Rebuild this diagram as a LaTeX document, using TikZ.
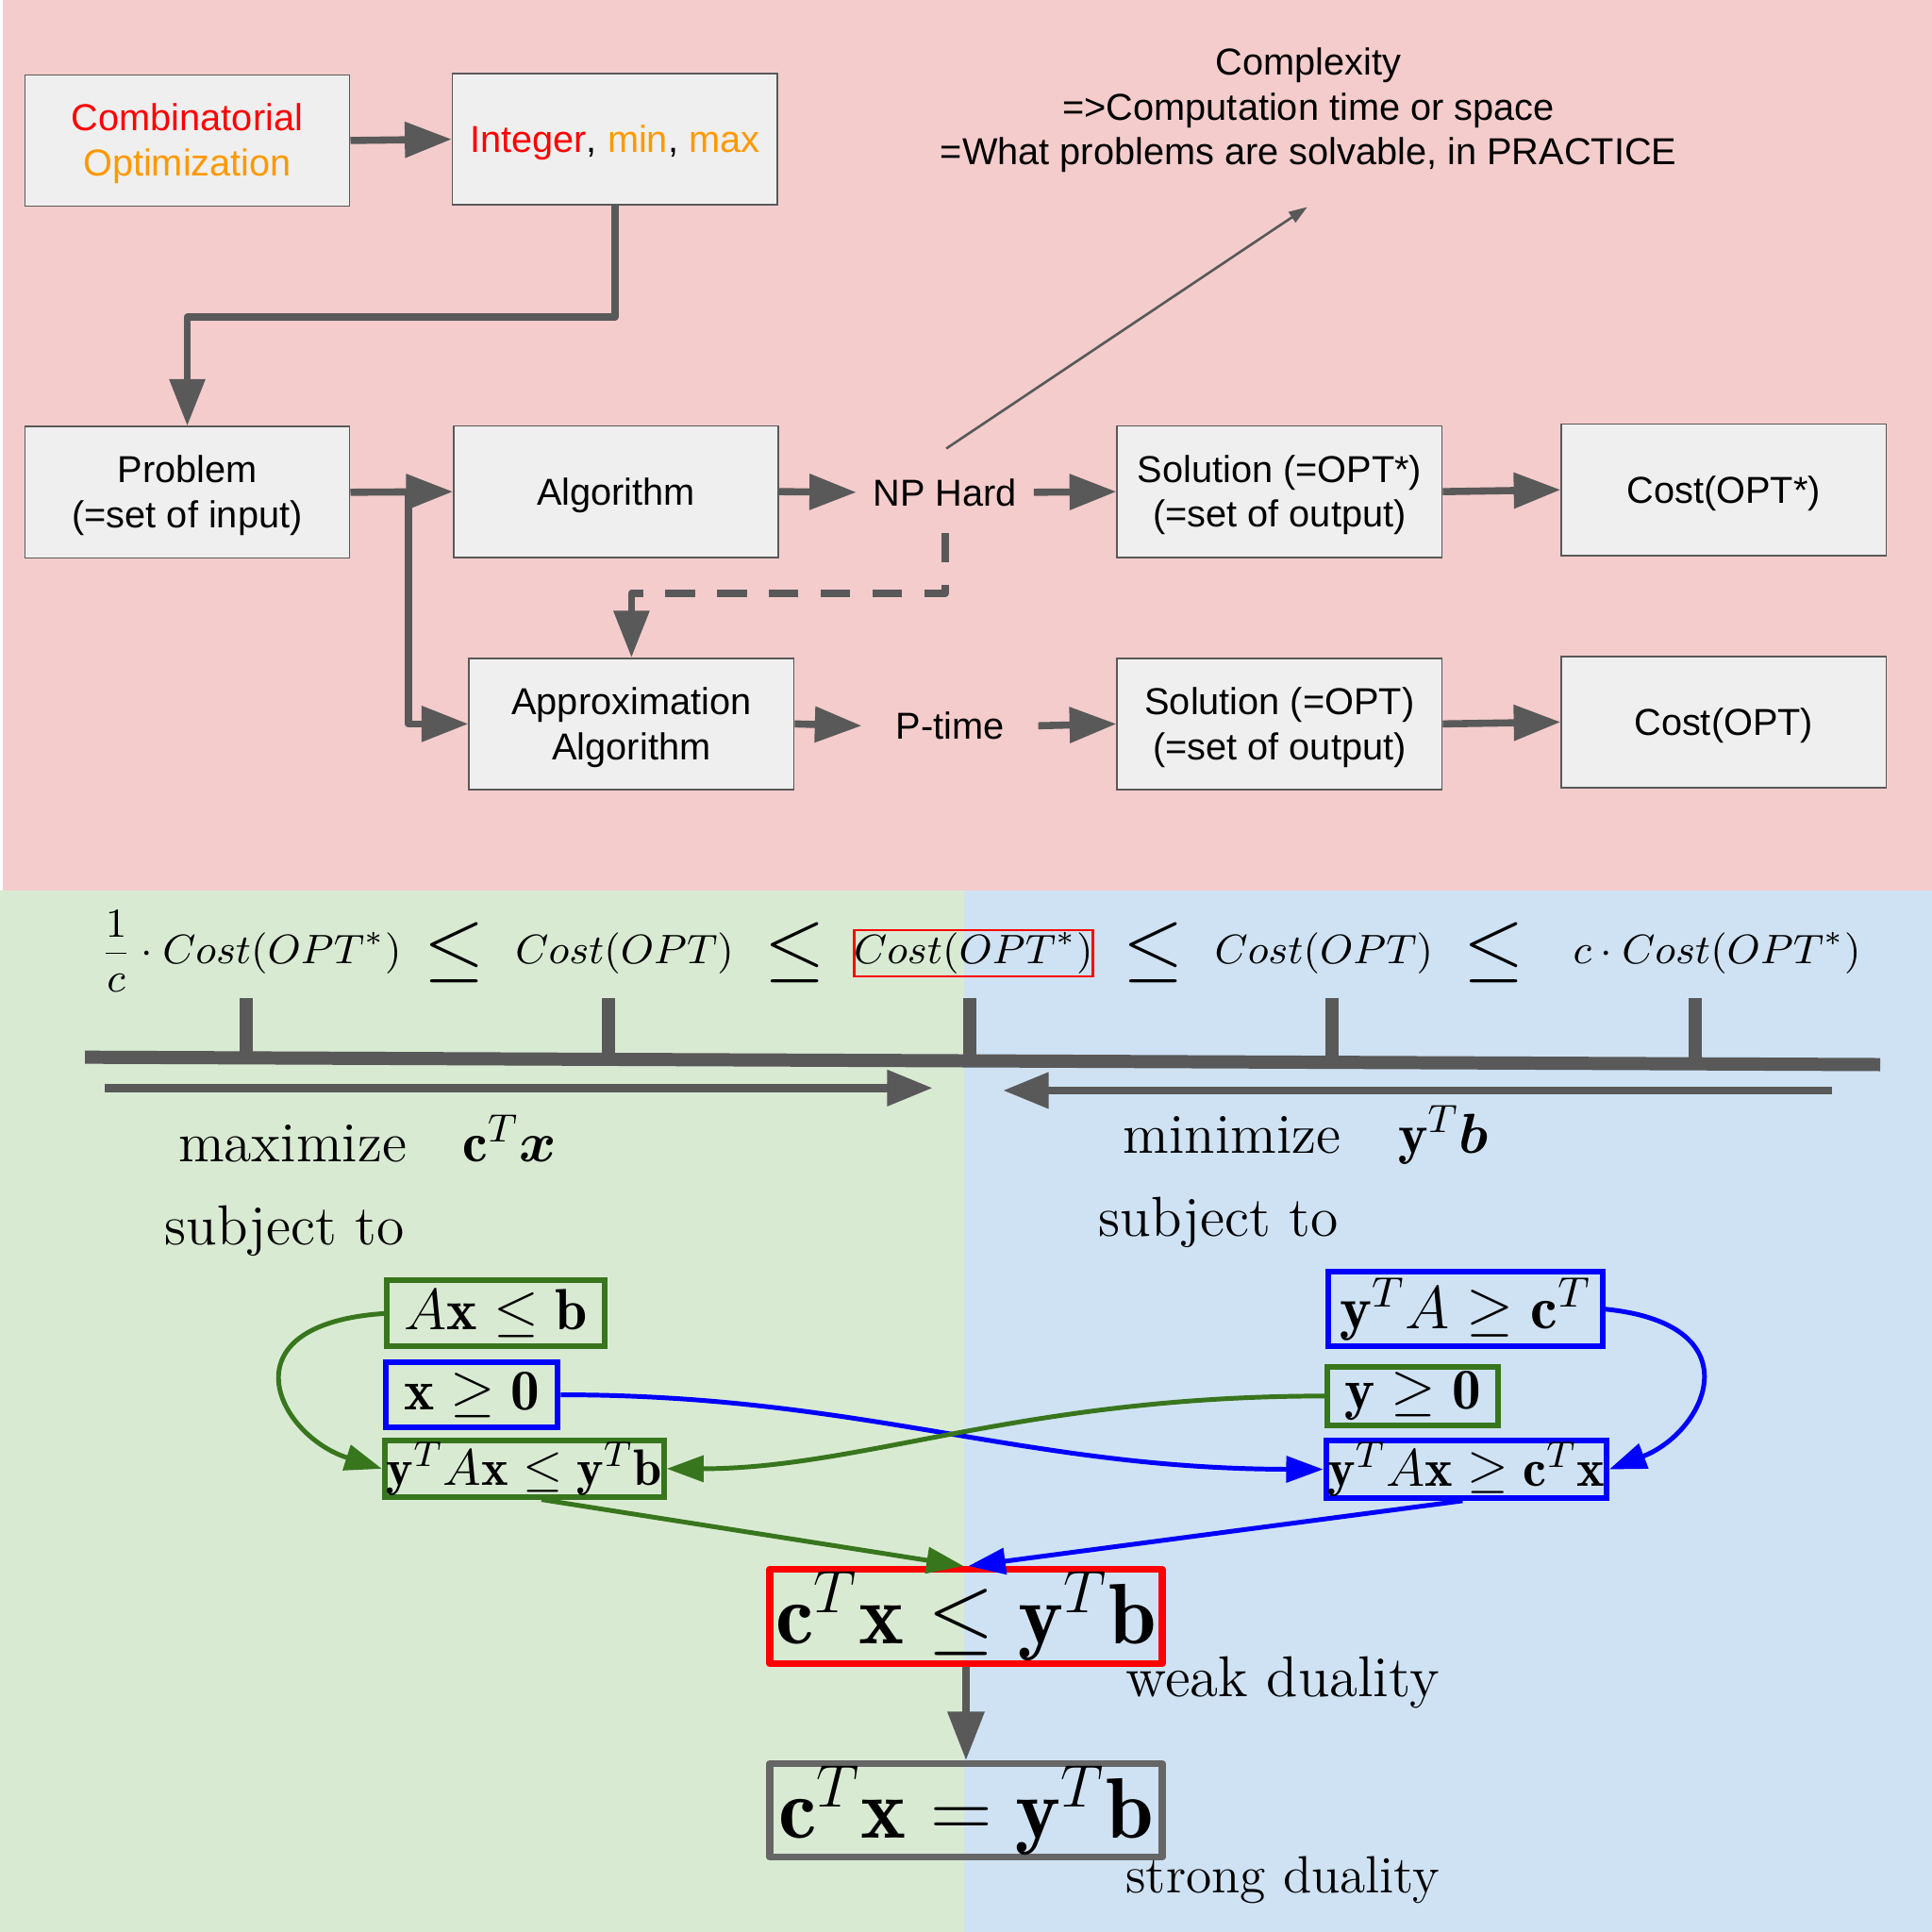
\RequirePackage{fix-cm}
\documentclass[tikz,border=0pt]{standalone}
\usepackage{amsmath}
\usepackage{fontspec}
\newfontfamily\arialf{Liberation Sans}
\usetikzlibrary{arrows.meta,calc}
\definecolor{pinkbg}{HTML}{F4CCCC}
\definecolor{greenbg}{HTML}{D9EAD3}
\definecolor{bluebg}{HTML}{CFE2F3}
\definecolor{boxfill}{HTML}{EFEFEF}
\definecolor{dgray}{HTML}{595959}
\definecolor{gboxc}{HTML}{666666}
\definecolor{cred}{HTML}{FF0000}
\definecolor{corange}{HTML}{FF9900}
\definecolor{cgreen}{HTML}{38761D}
\definecolor{cblue}{HTML}{0000FF}
\newcommand{\bxt}[1]{\raisebox{-0.95pt}[\height][\depth]{\begin{tabular}{@{}c@{}}#1\end{tabular}}}
\begin{document}
\begin{tikzpicture}[x=0.01cm,y=-0.01cm,
  flowbox/.style={draw=dgray, line width=0.012cm, fill=boxfill, minimum width=2.635cm, minimum height=1.065cm, inner sep=0pt, font=\arialf\fontsize{8.65}{10.4}\selectfont},
  flowtext/.style={inner ysep=0pt, align=center, font=\arialf\fontsize{8.65}{10.4}\selectfont},
  garrow/.style={draw=dgray, line width=0.058cm, line join=round, -{Triangle[length=0.38cm,width=0.28cm]}},
  thinarrow/.style={draw=dgray, line width=0.02cm, -{Triangle[length=0.15cm,width=0.1cm]}},
  axisline/.style={draw=dgray, line width=0.107cm},
  tickline/.style={draw=dgray, line width=0.11cm},
  barrow/.style={draw=dgray, line width=0.064cm, -{Triangle[length=0.37cm,width=0.28cm]}},
  costtxt/.style={inner sep=0pt, anchor=base, font=\fontsize{9.5}{12}\selectfont},
  leqtxt/.style={inner sep=0pt, anchor=base, font=\fontsize{18}{21}\selectfont},
  lptxt/.style={inner sep=0pt, anchor=base west, font=\fontsize{13}{15}\selectfont},
  conbox/.style={line width=0.046cm, inner sep=0pt},
  carrow/.style={line width=0.038cm, -{Triangle[length=0.3cm,width=0.21cm]}},
  bigbox/.style={line width=0.056cm, inner sep=0pt, line join=round, minimum width=3.184cm, font=\fontsize{19.8}{23}\selectfont},
  bigarrow/.style={draw=dgray, line width=0.056cm, -{Triangle[length=0.395cm,width=0.29cm]}}
]
\useasboundingbox (0,0) rectangle (1568,1568);
% backgrounds
\fill[white] (0,0) rectangle (1568,723);
\fill[pinkbg] (2.5,0) rectangle (1568,723);
\fill[greenbg] (0,723) rectangle (782.5,1568);
\fill[bluebg] (782.5,723) rectangle (1568,1568);

% ---------- top flow chart ----------
\node[flowbox] (comb) at (152,114) {\bxt{{\color{cred}Combinatorial}\\{\color{corange}Optimization}}};
\node[flowbox] (integer) at (499,113) {\bxt{{\color{cred}Integer}, {\color{corange}min}, {\color{corange}max}}};
\node[flowbox] (problem) at (152,399.5) {\bxt{Problem\\(=set of input)}};
\node[flowbox] (algo) at (500,399) {\bxt{Algorithm}};
\node[flowbox] (solstar) at (1038.5,399) {\bxt{Solution (=OPT*)\\(=set of output)}};
\node[flowbox] (coststar) at (1399,397.5) {\bxt{Cost(OPT*)}};
\node[flowbox] (approx) at (512.5,587.5) {\bxt{Approximation\\Algorithm}};
\node[flowbox] (sol) at (1038.5,587.5) {\bxt{Solution (=OPT)\\(=set of output)}};
\node[flowbox] (cost) at (1399,586) {\bxt{Cost(OPT)}};
\node[flowtext, inner xsep=0.13cm] (np) at (767,399.5) {NP Hard};
\node[flowtext, inner xsep=0.27cm] (ptime) at (771,589) {P-time};
\node[flowtext] (cx) at (1062,89.5) {Complexity\\=>Computation time or space\\=What problems are solvable, in PRACTICE};

\draw[garrow] (comb.east) -- (integer.west);
\draw[garrow] (integer.south) -- ++(0,90.5) -| (problem.north);
\draw[garrow] (problem.east) -- (algo.west);
\coordinate (branch) at (331.5,399.5);
\draw[garrow] (branch) |- (approx.west);
\draw[garrow] (algo.east) -- (np.west);
\draw[garrow] (np.east) -- (solstar.west);
\draw[garrow] (solstar.east) -- (coststar.west);
\draw[garrow] (approx.east) -- (ptime.west);
\draw[garrow] (ptime.east) -- (sol.west);
\draw[garrow] (sol.east) -- (cost.west);
\draw[garrow, dash pattern=on 0.24cm off 0.18cm] ($(np.center)+(0,33)$) |- ($(approx.north)+(0,-52)$) -- (approx.north);
\coordinate (cxtip) at (1061,168);
\draw[thinarrow] ($(np.center)+(1,-35.5)$) -- (cxtip);

% ---------- number line ----------
\draw[axisline] (69,858) -- (1526,864);
\foreach \tx/\ty in {200/858.5, 494/859.75, 787/861, 1081/862.2, 1376/863.4}
  \draw[tickline] (\tx,810) -- (\tx,\ty);

\node[costtxt, anchor=base west] (ineqA) at (80.8,782) {$\dfrac{1}{c}\cdot Cost(OPT^*)$};
\node[leqtxt] (le1) at (368.5,789) {$\leq$};
\node[costtxt] (ineqB) at (507,782) {$Cost(OPT)$};
\node[leqtxt] (le2) at (645,789) {$\leq$};
\node[costtxt, draw=cred, line width=0.02cm, inner ysep=0.6pt, inner xsep=0pt] (ineqC) at (790,782) {$Cost(OPT^*)$};
\node[leqtxt] (le3) at (936,789) {$\leq$};
\node[costtxt] (ineqD) at (1074.5,782) {$Cost(OPT)$};
\node[leqtxt] (le4) at (1212.5,789) {$\leq$};
\node[costtxt] (ineqE) at (1393.5,782) {$c\cdot Cost(OPT^*)$};

\coordinate (maxs) at (85,883);
\coordinate (maxe) at (757,883);
\coordinate (mins) at (1487,885);
\coordinate (mine) at (814,885);
\draw[barrow] (maxs) -- (maxe);
\draw[barrow] (mins) -- (mine);

% ---------- LP text ----------
\node[lptxt] (maxw) at (144,943) {maximize};
\node[lptxt] (maxobj) at (375,943) {$\mathbf{c}^T\boldsymbol{x}$};
\node[lptxt] (subjL) at (133,1010) {subject to};
\node[lptxt] (minw) at (911,936) {minimize};
\node[lptxt] (minobj) at (1134,936) {$\mathbf{y}^T\boldsymbol{b}$};
\node[lptxt] (subjR) at (891,1003) {subject to};

% ---------- constraints ----------
\node[conbox, draw=cgreen, minimum width=1.765cm, minimum height=0.535cm, font=\fontsize{13.4}{15}\selectfont] (axb) at (402.5,1066) {$A\mathbf{x}\leq\mathbf{b}$};
\node[conbox, draw=cblue, minimum width=1.394cm, minimum height=0.534cm, font=\fontsize{13.3}{15}\selectfont] (xz) at (383,1132) {$\mathbf{x}\geq\mathbf{0}$};
\node[conbox, draw=cgreen, minimum width=2.264cm, minimum height=0.454cm, font=\fontsize{11.8}{14}\selectfont] (yaxl) at (425.5,1192) {$\mathbf{y}^TA\mathbf{x}\leq\mathbf{y}^T\mathbf{b}$};
\node[conbox, draw=cblue, minimum width=2.224cm, minimum height=0.604cm, font=\fontsize{14}{17}\selectfont] (ya) at (1189.5,1062.5) {$\mathbf{y}^TA\geq\mathbf{c}^T$};
\node[conbox, draw=cgreen, minimum width=1.384cm, minimum height=0.474cm, font=\fontsize{13.3}{15}\selectfont] (yz) at (1146.5,1133) {$\mathbf{y}\geq\mathbf{0}$};
\node[conbox, draw=cblue, minimum width=2.274cm, minimum height=0.464cm, font=\fontsize{12.2}{15}\selectfont] (yaxg) at (1190,1192.5) {$\mathbf{y}^TA\mathbf{x}\geq\mathbf{c}^T\mathbf{x}$};

% ---------- duality ----------
\node[bigbox, draw=cred, minimum height=0.764cm] (weak) at (784,1312) {$\mathbf{c}^T\mathbf{x}\leq\mathbf{y}^T\mathbf{b}$};
\node[bigbox, draw=gboxc, minimum height=0.758cm] (strong) at (784,1469.3) {$\mathbf{c}^T\mathbf{x}=\mathbf{y}^T\mathbf{b}$};
\node[lptxt, font=\fontsize{13.3}{15}\selectfont] (weaklbl) at (913,1377) {weak duality};
\node[lptxt, font=\fontsize{12.1}{15}\selectfont] (stronglbl) at (913,1536) {strong duality};
\draw[bigarrow] (weak.south) -- (strong.north);

% ---------- colored connectors ----------
\draw[carrow, cgreen] (axb.west) .. controls (180,1075) and (225,1165) .. (yaxl.west);
\draw[carrow, cblue] (xz.east) .. controls (700,1132) and (830,1192) .. (yaxg.west);
\draw[carrow, cgreen] (yz.west) .. controls (830,1133) and (700,1192) .. (yaxl.east);
\draw[carrow, cblue] (ya.east) .. controls (1425,1075) and (1385,1162) .. (yaxg.east);
\draw[carrow, cgreen] ($(yaxl.south)+(14,0)$) -- ($(weak.north)+(-2,0)$);
\draw[carrow, cblue] ($(yaxg.south)+(-3,0)$) -- ($(weak.north)+(2,0)$);
\end{tikzpicture}
\end{document}
